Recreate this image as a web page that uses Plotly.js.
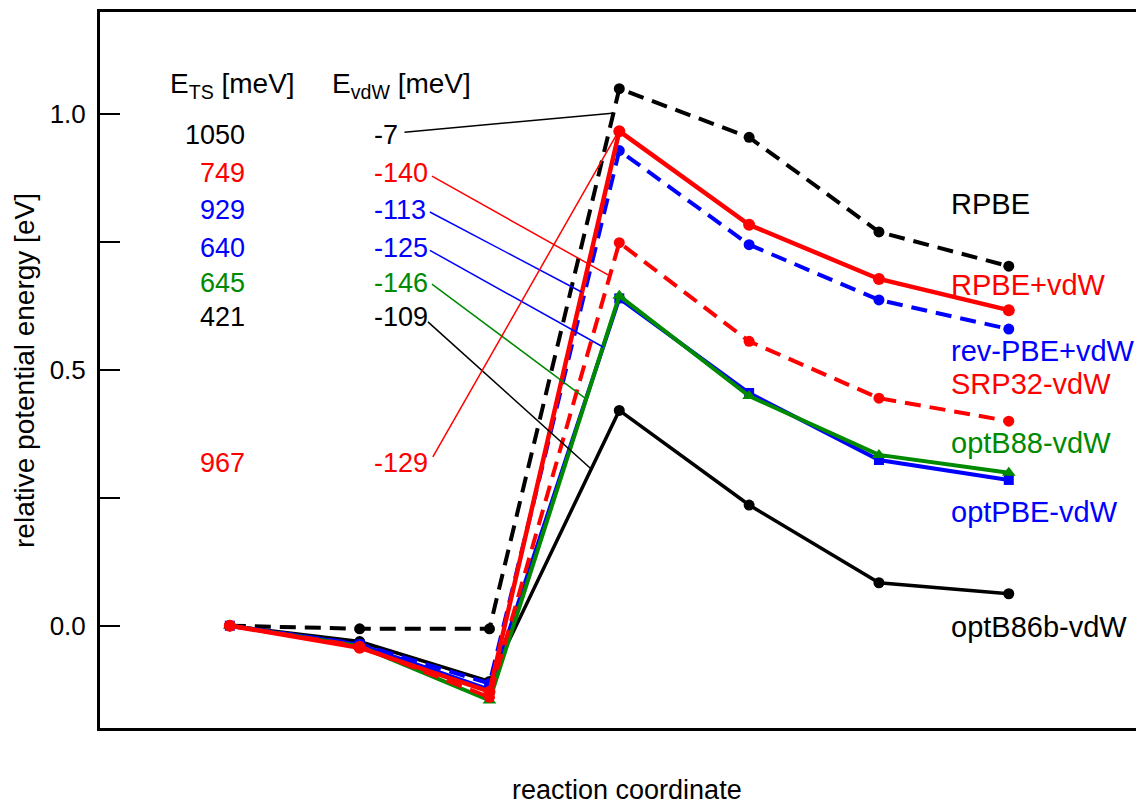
<!DOCTYPE html>
<html>
<head>
<meta charset="utf-8">
<script src="https://cdn.plot.ly/plotly-3.0.1.min.js"></script>
<style>html,body{margin:0;padding:0;background:#fff;}#chart{width:1136px;height:804px;}</style>
</head>
<body>
<div id="chart"></div>
<script>
// ---- data ----
const steps = [1, 2, 3, 4, 5, 6, 7];

const rpbe       = [0, -0.006, -0.006, 1.050, 0.955, 0.770, 0.703];
const rpbeVdw    = [0, -0.043, -0.129, 0.967, 0.784, 0.678, 0.617];
const revPbeVdw  = [0, -0.036, -0.113, 0.929, 0.745, 0.637, 0.580];
const srp32Vdw   = [0, -0.040, -0.140, 0.749, 0.556, 0.445, 0.400];
const optB88Vdw  = [0, -0.040, -0.146, 0.645, 0.449, 0.334, 0.299];
const optPbeVdw  = [0, -0.037, -0.125, 0.640, 0.455, 0.324, 0.285];
const optB86bVdw = [0, -0.031, -0.109, 0.421, 0.236, 0.084, 0.0625];

const seriesNames = ["RPBE", "RPBE+vdW", "rev-PBE+vdW", "SRP32-vdW", "optB88-vdW", "optPBE-vdW", "optB86b-vdW"];
const eTS  = ["1050", "749", "929", "640", "645", "421", "967"];
const eVdW = ["-7", "-140", "-113", "-125", "-146", "-109", "-129"];

const yTickVals = [0, 0.5, 1.0];
const yTickText = ["0.0", "0.5", "1.0"];

// ---- styles / positions ----
const RED = "#ff0000", BLUE = "#0000ff", GREEN = "#008a00", BLACK = "#000000";
const FONT = "Liberation Sans, Arial, Helvetica, sans-serif";
const DASH = "16px,9px";

function tr(y, color, dash, symbol, width, msize) {
  return {
    x: steps, y: y, type: "scatter", mode: "lines+markers",
    line: {color: color, width: width, dash: dash},
    marker: {color: color, size: msize, symbol: symbol},
    showlegend: false, hoverinfo: "skip", cliponaxis: false
  };
}

const traces = [
  tr(rpbe,       BLACK, DASH,    "circle",       4,   11),
  tr(optB86bVdw, BLACK, "solid", "circle",       3.5, 11),
  tr(revPbeVdw,  BLUE,  DASH,    "circle",       4,   11),
  tr(optPbeVdw,  BLUE,  "solid", "square",       4,   10),
  tr(optB88Vdw,  GREEN, "solid", "triangle-up",  4,   12),
  tr(srp32Vdw,   RED,   DASH,    "circle",       4,   11),
  tr(rpbeVdw,    RED,   "solid", "circle",       4.5, 12)
];

const rowColors = [BLACK, RED, BLUE, BLUE, GREEN, BLACK, RED];
const rowY = [0.959, 0.885, 0.8125, 0.738, 0.670, 0.604, 0.318];
const colEtsX = 1.132, colVdwX = 2.095;

// leader lines from E_vdW labels to curves (data units)
const leaders = [
  {c: BLACK, p: [2.345, 0.965, 3.945, 1.002]},
  {c: RED,   p: [2.557, 0.879, 3.913, 0.686]},
  {c: BLUE,  p: [2.541, 0.809, 3.713, 0.652]},
  {c: BLUE,  p: [2.541, 0.734, 3.875, 0.545]},
  {c: GREEN, p: [2.557, 0.668, 3.736, 0.445]},
  {c: BLACK, p: [2.526, 0.594, 3.790, 0.305]},
  {c: RED,   p: [2.564, 0.330, 3.990, 0.965]}
];

const labelColors = [BLACK, RED, BLUE, RED, GREEN, BLUE, BLACK];
const labelY = [204, 285, 351, 384, 443, 512, 627].map(p => (626 - p) / 512);
const labelX = 6.54;

const annotations = [];
annotations.push({x: 0.52, y: 1.057, xref: "x", yref: "y", xanchor: "left", yanchor: "middle",
  text: "E<sub>TS</sub> [meV]", showarrow: false, font: {family: FONT, size: 28, color: BLACK}});
annotations.push({x: 1.768, y: 1.057, xref: "x", yref: "y", xanchor: "left", yanchor: "middle",
  text: "E<sub>vdW</sub> [meV]", showarrow: false, font: {family: FONT, size: 28, color: BLACK}});
for (let i = 0; i < eTS.length; i++) {
  annotations.push({x: colEtsX, y: rowY[i], xref: "x", yref: "y", xanchor: "right", yanchor: "middle",
    text: eTS[i], showarrow: false, font: {family: FONT, size: 27, color: rowColors[i]}});
  annotations.push({x: colVdwX, y: rowY[i], xref: "x", yref: "y", xanchor: "left", yanchor: "middle",
    text: eVdW[i], showarrow: false, font: {family: FONT, size: 27, color: rowColors[i]}});
}
for (let i = 0; i < seriesNames.length; i++) {
  annotations.push({x: labelX, y: labelY[i], xref: "x", yref: "y", xanchor: "left", yanchor: "middle",
    text: seriesNames[i], showarrow: false, font: {family: FONT, size: 29, color: labelColors[i]}});
}
// axis titles (paper refs so they are not hidden outside the axis range)
annotations.push({x: 0.5087, y: -0.0859, xref: "paper", yref: "paper", xanchor: "center", yanchor: "middle",
  text: "reaction coordinate", showarrow: false, font: {family: FONT, size: 27, color: BLACK}});
annotations.push({x: -0.0734, y: 0.5, xref: "paper", yref: "y", xanchor: "center", yanchor: "middle",
  textangle: -90, text: "relative potential energy [eV]", showarrow: false,
  font: {family: FONT, size: 28, color: BLACK}});

const shapes = leaders.map(l => ({
  type: "line", xref: "x", yref: "y", x0: l.p[0], y0: l.p[1], x1: l.p[2], y1: l.p[3],
  line: {color: l.c, width: 1.5}
}));

const layout = {
  width: 1136, height: 804,
  margin: {l: 100, r: 0, t: 11.6, b: 75.6, pad: 0},
  paper_bgcolor: "#ffffff", plot_bgcolor: "#ffffff",
  showlegend: false,
  xaxis: {
    range: [0, 7.98], showgrid: false, zeroline: false, showticklabels: false, ticks: "",
    showline: true, linecolor: BLACK, linewidth: 3, mirror: true
  },
  yaxis: {
    range: [-0.2, 1.2], showgrid: false, zeroline: false,
    showline: true, linecolor: BLACK, linewidth: 3, mirror: false,
    tickmode: "array", tickvals: yTickVals, ticktext: yTickText,
    ticks: "inside", ticklen: 20, tickwidth: 2, tickcolor: BLACK,
    ticklabelstandoff: 6,
    tickfont: {family: FONT, size: 26, color: BLACK},
    minor: {tickmode: "array", tickvals: [0.25, 0.75], ticks: "inside", ticklen: 20, tickwidth: 2, tickcolor: BLACK}
  },
  annotations: annotations,
  shapes: shapes
};

Plotly.newPlot("chart", traces, layout, {staticPlot: true, displayModeBar: false});
</script>
</body>
</html>
